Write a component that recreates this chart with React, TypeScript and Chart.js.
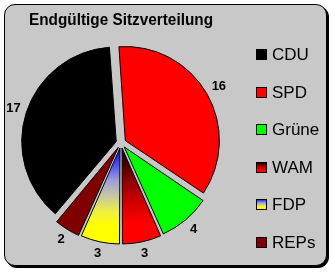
import React, { useEffect, useRef } from 'react';
import { Chart, registerables } from 'chart.js';

Chart.register(...registerables);

const TITLE = 'Endgültige Sitzverteilung';
const parties = ['CDU', 'SPD', 'Grüne', 'WAM', 'FDP', 'REPs'];
const seats = [17, 16, 4, 3, 3, 2];

const FONT = "'Liberation Sans', Arial, Helvetica, sans-serif";
const RADIUS = 93;
const SOLID: (string | null)[] = ['#000000', '#ff0000', '#00ff00', null, null, '#800000'];
const GRADIENTS: Record<number, [number, string][]> = {
  3: [[0, '#100000'], [0.16, '#400000'], [0.34, '#900000'], [0.5, '#c00000'], [0.7, '#f00000'], [0.8, '#ff0000'], [1, '#ff0000']],
  4: [[0, '#0000ff'], [0.16, '#4848f8'], [0.34, '#a0a0d8'], [0.5, '#c8c8a0'], [0.66, '#f0f040'], [0.8, '#ffff00'], [1, '#ffff00']],
};

function makeGradient(ctx: CanvasRenderingContext2D, i: number, y0: number, y1: number) {
  const g = ctx.createLinearGradient(0, y0, 0, y1);
  for (const [p, c] of GRADIENTS[i]) g.addColorStop(p, c);
  return g;
}

const valueLabels = {
  id: 'valueLabels',
  afterDatasetsDraw(chart: any) {
    const ctx = chart.ctx as CanvasRenderingContext2D;
    const meta = chart.getDatasetMeta(0);
    ctx.save();
    ctx.font = `bold 13px ${FONT}`;
    ctx.fillStyle = '#000';
    ctx.textAlign = 'center';
    ctx.textBaseline = 'middle';
    meta.data.forEach((arc: any, i: number) => {
      const { x, y, startAngle, endAngle, outerRadius } = arc.getProps(['x', 'y', 'startAngle', 'endAngle', 'outerRadius'], true);
      const mid = (startAngle + endAngle) / 2;
      const r = outerRadius + 20;
      ctx.fillText(String(chart.data.datasets[0].data[i]), x + Math.cos(mid) * r, y + Math.sin(mid) * r);
    });
    ctx.restore();
  },
};

const sideLegend = {
  id: 'sideLegend',
  afterDraw(chart: any) {
    const ctx = chart.ctx as CanvasRenderingContext2D;
    const x0 = 256;
    const y0 = 54.5;
    const step = 37.5;
    const box = 11;
    ctx.save();
    ctx.font = `17px ${FONT}`;
    ctx.textAlign = 'left';
    ctx.textBaseline = 'middle';
    chart.data.labels.forEach((label: string, i: number) => {
      const cy = y0 + i * step;
      const top = Math.round(cy - box / 2);
      ctx.fillStyle = SOLID[i] ?? makeGradient(ctx, i, top, top + box);
      ctx.fillRect(x0, top, box, box);
      ctx.strokeStyle = '#000';
      ctx.lineWidth = 1;
      ctx.strokeRect(x0 + 0.5, top + 0.5, box - 1, box - 1);
      ctx.fillStyle = '#000';
      ctx.fillText(label, x0 + 16, cy + 1);
    });
    ctx.restore();
  },
};

export default function App() {
  const canvasRef = useRef<HTMLCanvasElement | null>(null);

  useEffect(() => {
    const canvas = canvasRef.current;
    if (!canvas) return;
    const chart = new Chart(canvas, {
      type: 'pie',
      data: {
        labels: parties,
        datasets: [
          {
            data: seats,
            backgroundColor: (c: any) => {
              const i = c.dataIndex;
              if (SOLID[i]) return SOLID[i];
              const ca = c.chart.chartArea;
              if (!ca) return '#888';
              const cy = (ca.top + ca.bottom) / 2;
              return makeGradient(c.chart.ctx, i, cy, cy + RADIUS + 4);
            },
            borderColor: '#000000',
            borderWidth: 1,
            offset: 20,
            rotation: 220,
            radius: RADIUS,
          } as any,
        ],
      },
      options: {
        responsive: false,
        animation: false,
        rotation: 220,
        layout: { padding: { left: 29, right: 121, top: 0, bottom: 17 } },
        plugins: {
          legend: { display: false },
          tooltip: { enabled: false },
          title: {
            display: true,
            text: TITLE,
            align: 'start',
            color: '#000',
            font: { family: FONT, size: 16, weight: 'bold' },
            padding: { top: 11, bottom: 0 },
          },
        },
      } as any,
      plugins: [valueLabels, sideLegend],
    });
    return () => chart.destroy();
  }, []);

  return (
    <div style={{ position: 'absolute', left: 0, top: 0, width: 334, height: 273, background: '#ffffff', overflow: 'hidden' }}>
      <div
        style={{
          position: 'absolute',
          left: 4,
          top: 4,
          width: 323,
          height: 262,
          boxSizing: 'border-box',
          border: '1px solid #000',
          borderRadius: 11,
          boxShadow: '2px 2px 0 #000',
          background: '#c8c8c8',
        }}
      />
      <canvas ref={canvasRef} width={334} height={273} style={{ position: 'absolute', left: 0, top: 0 }} />
    </div>
  );
}
